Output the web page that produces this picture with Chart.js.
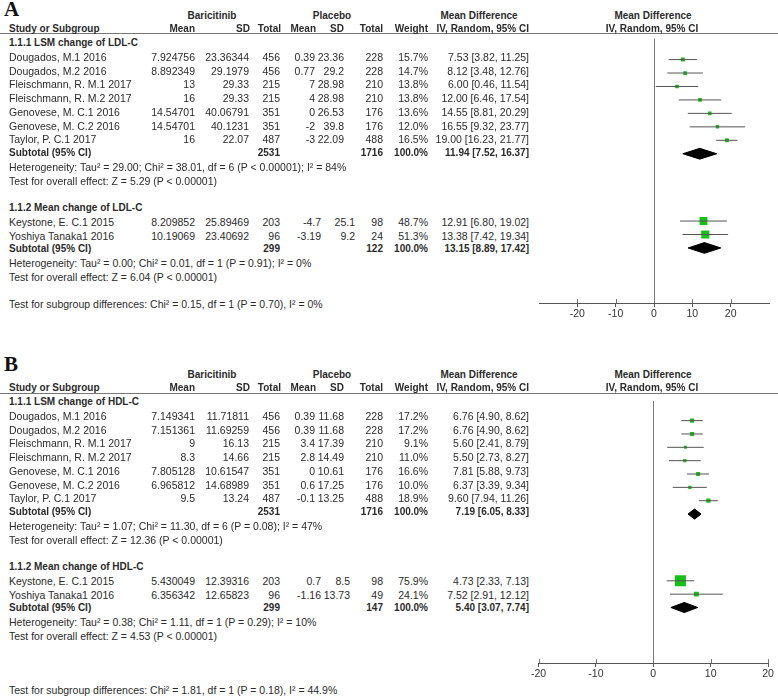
<!DOCTYPE html>
<html>
<head>
<meta charset="utf-8">
<script src="https://cdn.jsdelivr.net/npm/chart.js@4.4.1/dist/chart.umd.min.js"></script>
<style>
    html, body { margin: 0; background: #fff; }
    #page { position: relative; width: 778px; height: 698px; overflow: hidden;
            font-family: 'Liberation Sans', Arial, sans-serif; font-size: 10.5px; color: #2b2b2b; }
    .t { position: absolute; white-space: nowrap; line-height: 14px; height: 14px; }
    .b { font-weight: bold; font-size: 10px; }
    .rule { position: absolute; left: 0; width: 778px; height: 1px; background: #777; }
    .letter { position: absolute; left: 4px; font: bold 21px 'Liberation Serif', 'Times New Roman', serif;
              line-height: 21px; color: #111; }
    .plot { position: absolute; left: 530px; width: 248px; height: 297px; }
</style>
</head>
<body>
<div id="page">
    <div class="letter" style="top:-1px">A</div>
    <div class="rule" style="top:33px"></div>
    <div class="plot" style="top:33px"><canvas id="forestA"></canvas></div>
    <div class="letter" style="top:354px">B</div>
    <div class="rule" style="top:393px"></div>
    <div class="plot" style="top:393px"><canvas id="forestB"></canvas></div>
</div>
<script>
// ---- Panel A: LDL-C ----
const ldlLsmStudy = ['Dougados, M.1 2016', 'Dougados, M.2 2016', 'Fleischmann, R. M.1 2017', 'Fleischmann, R. M.2 2017',
    'Genovese, M. C.1 2016', 'Genovese, M. C.2 2016', 'Taylor, P. C.1 2017'];
const ldlLsmBari = [['7.924756', '23.36344', '456'], ['8.892349', '29.1979', '456'], ['13', '29.33', '215'], ['16', '29.33', '215'],
    ['14.54701', '40.06791', '351'], ['14.54701', '40.1231', '351'], ['16', '22.07', '487']];
const ldlLsmPlac = [['0.39', '23.36', '228'], ['0.77', '29.2', '228'], ['7', '28.98', '210'], ['4', '28.98', '210'],
    ['0', '26.53', '176'], ['-2', '39.8', '176'], ['-3', '22.09', '488']];
const ldlLsmWeight = [15.7, 14.7, 13.8, 13.8, 13.6, 12.0, 16.5];
const ldlLsmMd = [7.53, 8.12, 6.00, 12.00, 14.55, 16.55, 19.00];
const ldlLsmLo = [3.82, 3.48, 0.46, 6.46, 8.81, 9.32, 16.23];
const ldlLsmHi = [11.25, 12.76, 11.54, 17.54, 20.29, 23.77, 21.77];
const ldlLsmTotals = ['2531', '1716'];
const ldlLsmPooled = [11.94, 7.52, 16.37];

const ldlMeanStudy = ['Keystone, E. C.1 2015', 'Yoshiya Tanaka1 2016'];
const ldlMeanBari = [['8.209852', '25.89469', '203'], ['10.19069', '23.40692', '96']];
const ldlMeanPlac = [['-4.7', '25.1', '98'], ['-3.19', '9.2', '24']];
const ldlMeanWeight = [48.7, 51.3];
const ldlMeanMd = [12.91, 13.38];
const ldlMeanLo = [6.80, 7.42];
const ldlMeanHi = [19.02, 19.34];
const ldlMeanTotals = ['299', '122'];
const ldlMeanPooled = [13.15, 8.89, 17.42];

const ldlNotes = [
    'Heterogeneity: Tau² = 29.00; Chi² = 38.01, df = 6 (P < 0.00001); I² = 84%',
    'Test for overall effect: Z = 5.29 (P < 0.00001)',
    'Heterogeneity: Tau² = 0.00; Chi² = 0.01, df = 1 (P = 0.91); I² = 0%',
    'Test for overall effect: Z = 6.04 (P < 0.00001)',
    'Test for subgroup differences: Chi² = 0.15, df = 1 (P = 0.70), I² = 0%'];
const ticksA = [-20, -10, 0, 10, 20];

// ---- Panel B: HDL-C ----
const hdlLsmStudy = ldlLsmStudy;
const hdlLsmBari = [['7.149341', '11.71811', '456'], ['7.151361', '11.69259', '456'], ['9', '16.13', '215'], ['8.3', '14.66', '215'],
    ['7.805128', '10.61547', '351'], ['6.965812', '14.68989', '351'], ['9.5', '13.24', '487']];
const hdlLsmPlac = [['0.39', '11.68', '228'], ['0.39', '11.68', '228'], ['3.4', '17.39', '210'], ['2.8', '14.49', '210'],
    ['0', '10.61', '176'], ['0.6', '17.25', '176'], ['-0.1', '13.25', '488']];
const hdlLsmWeight = [17.2, 17.2, 9.1, 11.0, 16.6, 10.0, 18.9];
const hdlLsmMd = [6.76, 6.76, 5.60, 5.50, 7.81, 6.37, 9.60];
const hdlLsmLo = [4.90, 4.90, 2.41, 2.73, 5.88, 3.39, 7.94];
const hdlLsmHi = [8.62, 8.62, 8.79, 8.27, 9.73, 9.34, 11.26];
const hdlLsmTotals = ['2531', '1716'];
const hdlLsmPooled = [7.19, 6.05, 8.33];

const hdlMeanStudy = ldlMeanStudy;
const hdlMeanBari = [['5.430049', '12.39316', '203'], ['6.356342', '12.65823', '96']];
const hdlMeanPlac = [['0.7', '8.5', '98'], ['-1.16', '13.73', '49']];
const hdlMeanWeight = [75.9, 24.1];
const hdlMeanMd = [4.73, 7.52];
const hdlMeanLo = [2.33, 2.91];
const hdlMeanHi = [7.13, 12.12];
const hdlMeanTotals = ['299', '147'];
const hdlMeanPooled = [5.40, 3.07, 7.74];

const hdlNotes = [
    'Heterogeneity: Tau² = 1.07; Chi² = 11.30, df = 6 (P = 0.08); I² = 47%',
    'Test for overall effect: Z = 12.36 (P < 0.00001)',
    'Heterogeneity: Tau² = 0.38; Chi² = 1.11, df = 1 (P = 0.29); I² = 10%',
    'Test for overall effect: Z = 4.53 (P < 0.00001)',
    'Test for subgroup differences: Chi² = 1.81, df = 1 (P = 0.18), I² = 44.9%'];
const ticksB = [-20, -10, 0, 10, 20];

// ---- layout ----
const FONT = "'Liberation Sans', Arial, sans-serif";
const page = document.getElementById('page');
const cols = { name: 9, bMean: 195, bSd: 249, bTot: 280, pMean: 315, pSd: 344, pTot: 383, weight: 428, md: 529 };

function put(text, x, y, align, bold) {
    const el = document.createElement('div');
    el.className = 't' + (bold ? ' b' : '');
    el.textContent = text;
    el.style.top = (y - 7) + 'px';
    if (align === 'r') el.style.right = (778 - x) + 'px';
    else if (align === 'c') { el.style.left = (x - 150) + 'px'; el.style.width = '300px'; el.style.textAlign = 'center'; }
    else el.style.left = x + 'px';
    page.appendChild(el);
}

const fmtCI = (m, l, h) => `${m.toFixed(2)} [${l.toFixed(2)}, ${h.toFixed(2)}]`;

// Square side grows with study weight, as RevMan does.
const markRadius = w => (2 + 0.12 * w) / (2 * Math.SQRT1_2);

const zeroLine = {
    id: 'zeroLine',
    beforeDatasetsDraw(chart) {
        const { ctx, chartArea, scales: { x } } = chart;
        const px = Math.round(x.getPixelForValue(0)) + 0.5;
        ctx.save();
        ctx.strokeStyle = '#7a7a7a';
        ctx.lineWidth = 1;
        ctx.beginPath();
        ctx.moveTo(px, chartArea.top);
        ctx.lineTo(px, chartArea.bottom);
        // RevMan tick marks cross the axis, so extend them above it too
        x.ticks.forEach(t => {
            const tx = Math.round(x.getPixelForValue(t.value)) + 0.5;
            ctx.moveTo(tx, chartArea.bottom - 4);
            ctx.lineTo(tx, chartArea.bottom);
        });
        ctx.stroke();
        ctx.restore();
    },
};

function drawPanel(canvasId, lay, groups, notes, ticks) {
    const textY = r => lay.row0 + lay.rowH * r + lay.textDy;

    // column headers
    put('Baricitinib', 212, textY(-2), 'c', true);
    put('Placebo', 332, textY(-2), 'c', true);
    put('Mean Difference', 479, textY(-2), 'c', true);
    put('Mean Difference', 653, textY(-2), 'c', true);
    put('Study or Subgroup', cols.name, textY(-1), 'l', true);
    put('Mean', cols.bMean, textY(-1), 'r', true);
    put('SD', cols.bSd + 1, textY(-1), 'r', true);
    put('Total', cols.bTot + 1, textY(-1), 'r', true);
    put('Mean', cols.pMean + 1, textY(-1), 'r', true);
    put('SD', cols.pSd, textY(-1), 'r', true);
    put('Total', cols.pTot, textY(-1), 'r', true);
    put('Weight', cols.weight, textY(-1), 'r', true);
    put('IV, Random, 95% CI', cols.md, textY(-1), 'r', true);
    put('IV, Random, 95% CI', 652, textY(-1), 'c', true);

    const whiskers = [], marks = [], radii = [], diamonds = [];
    groups.forEach((g, gi) => {
        const r0 = g.start;
        const pMeanX = g.pMeanX || cols.pMean, pSdX = g.pSdX || cols.pSd;
        put(g.title, cols.name, textY(r0), 'l', true);
        g.study.forEach((name, i) => {
            const r = r0 + 1 + i, y = textY(r);
            put(name, cols.name, y, 'l');
            put(g.bari[i][0], cols.bMean, y, 'r');
            put(g.bari[i][1], cols.bSd, y, 'r');
            put(g.bari[i][2], cols.bTot, y, 'r');
            put(g.plac[i][0], pMeanX, y, 'r');
            put(g.plac[i][1], pSdX, y, 'r');
            put(g.plac[i][2], cols.pTot, y, 'r');
            put(g.weight[i].toFixed(1) + '%', cols.weight, y, 'r');
            put(fmtCI(g.md[i], g.lo[i], g.hi[i]), cols.md, y, 'r');
            whiskers.push({ x: g.lo[i], y: r }, { x: g.hi[i], y: r }, { x: g.hi[i], y: null });
            marks.push({ x: g.md[i], y: r });
            radii.push(markRadius(g.weight[i]));
        });
        const rs = r0 + 1 + g.study.length;
        put('Subtotal (95% CI)', cols.name, textY(rs), 'l', true);
        put(g.totals[0], cols.bTot, textY(rs), 'r', true);
        put(g.totals[1], cols.pTot, textY(rs), 'r', true);
        put('100.0%', cols.weight, textY(rs), 'r', true);
        put(fmtCI(...g.pooled), cols.md, textY(rs), 'r', true);
        put(notes[gi * 2], cols.name, textY(rs + 1), 'l');
        put(notes[gi * 2 + 1], cols.name, textY(rs + 2), 'l');
        const [m, l, h] = g.pooled, hh = lay.diamondH;
        diamonds.push({
            type: 'line',
            data: [{ x: l, y: rs }, { x: m, y: rs - hh }, { x: h, y: rs }, { x: m, y: rs + hh }, { x: l, y: rs }],
            borderColor: '#000', backgroundColor: '#000', borderWidth: 1,
            fill: 'shape', pointRadius: 0, tension: 0,
        });
    });
    put(notes[4], cols.name, textY(lay.diffRow), 'l');

    new Chart(document.getElementById(canvasId), {
        type: 'scatter',
        data: {
            datasets: [
                { type: 'line', data: whiskers, borderColor: '#555', borderWidth: 1, pointRadius: 0, spanGaps: false, tension: 0 },
                { data: marks, pointStyle: 'rect', pointRadius: radii, backgroundColor: '#17c017', borderWidth: 0 },
                ...diamonds,
            ],
        },
        options: {
            responsive: true,
            maintainAspectRatio: false,
            animation: false,
            events: [],
            layout: { padding: { left: lay.padL, right: lay.padR, top: 0, bottom: 0 } },
            plugins: { legend: { display: false }, tooltip: { enabled: false } },
            scales: {
                x: {
                    type: 'linear', min: lay.xMin, max: lay.xMax,
                    afterBuildTicks: s => { s.ticks = ticks.map(v => ({ value: v })); },
                    afterFit: s => { s.height = 27; },
                    grid: { drawOnChartArea: false, tickLength: 4, color: '#555' },
                    border: { display: true, color: '#555' },
                    ticks: { font: { family: FONT, size: 10.5 }, color: '#333', padding: 1, maxRotation: 0, autoSkip: false },
                },
                y: {
                    type: 'linear', display: false, reverse: true,
                    min: (lay.chartTop - lay.row0) / lay.rowH,
                    max: (lay.axisY - lay.row0) / lay.rowH,
                },
            },
        },
        plugins: [zeroLine],
    });
}

drawPanel('forestA',
    { chartTop: 33, axisY: 303, row0: 40.5, rowH: 13.75, textDy: 2.5, diffRow: 19, diamondH: 0.4,
      xMin: -30, xMax: 30, padL: 9, padR: 9 },
    [
        { title: '1.1.1 LSM change of LDL-C', start: 0, study: ldlLsmStudy, bari: ldlLsmBari, plac: ldlLsmPlac,
          weight: ldlLsmWeight, md: ldlLsmMd, lo: ldlLsmLo, hi: ldlLsmHi, totals: ldlLsmTotals, pooled: ldlLsmPooled },
        { title: '1.1.2 Mean change of LDL-C', start: 12, study: ldlMeanStudy, bari: ldlMeanBari, plac: ldlMeanPlac,
          weight: ldlMeanWeight, md: ldlMeanMd, lo: ldlMeanLo, hi: ldlMeanHi, totals: ldlMeanTotals, pooled: ldlMeanPooled,
          pMeanX: 321, pSdX: 355 },
    ], ldlNotes, ticksA);

drawPanel('forestB',
    { chartTop: 393, axisY: 663, row0: 399.6, rowH: 13.75, textDy: 2.4, diffRow: 20.95, diamondH: 0.38,
      xMin: -20, xMax: 20, padL: 8, padR: 10 },
    [
        { title: '1.1.1 LSM change of HDL-C', start: 0, study: hdlLsmStudy, bari: hdlLsmBari, plac: hdlLsmPlac,
          weight: hdlLsmWeight, md: hdlLsmMd, lo: hdlLsmLo, hi: hdlLsmHi, totals: hdlLsmTotals, pooled: hdlLsmPooled },
        { title: '1.1.2 Mean change of HDL-C', start: 12, study: hdlMeanStudy, bari: hdlMeanBari, plac: hdlMeanPlac,
          weight: hdlMeanWeight, md: hdlMeanMd, lo: hdlMeanLo, hi: hdlMeanHi, totals: hdlMeanTotals, pooled: hdlMeanPooled,
          pMeanX: 321, pSdX: 350 },
    ], hdlNotes, ticksB);
</script>
</body>
</html>
